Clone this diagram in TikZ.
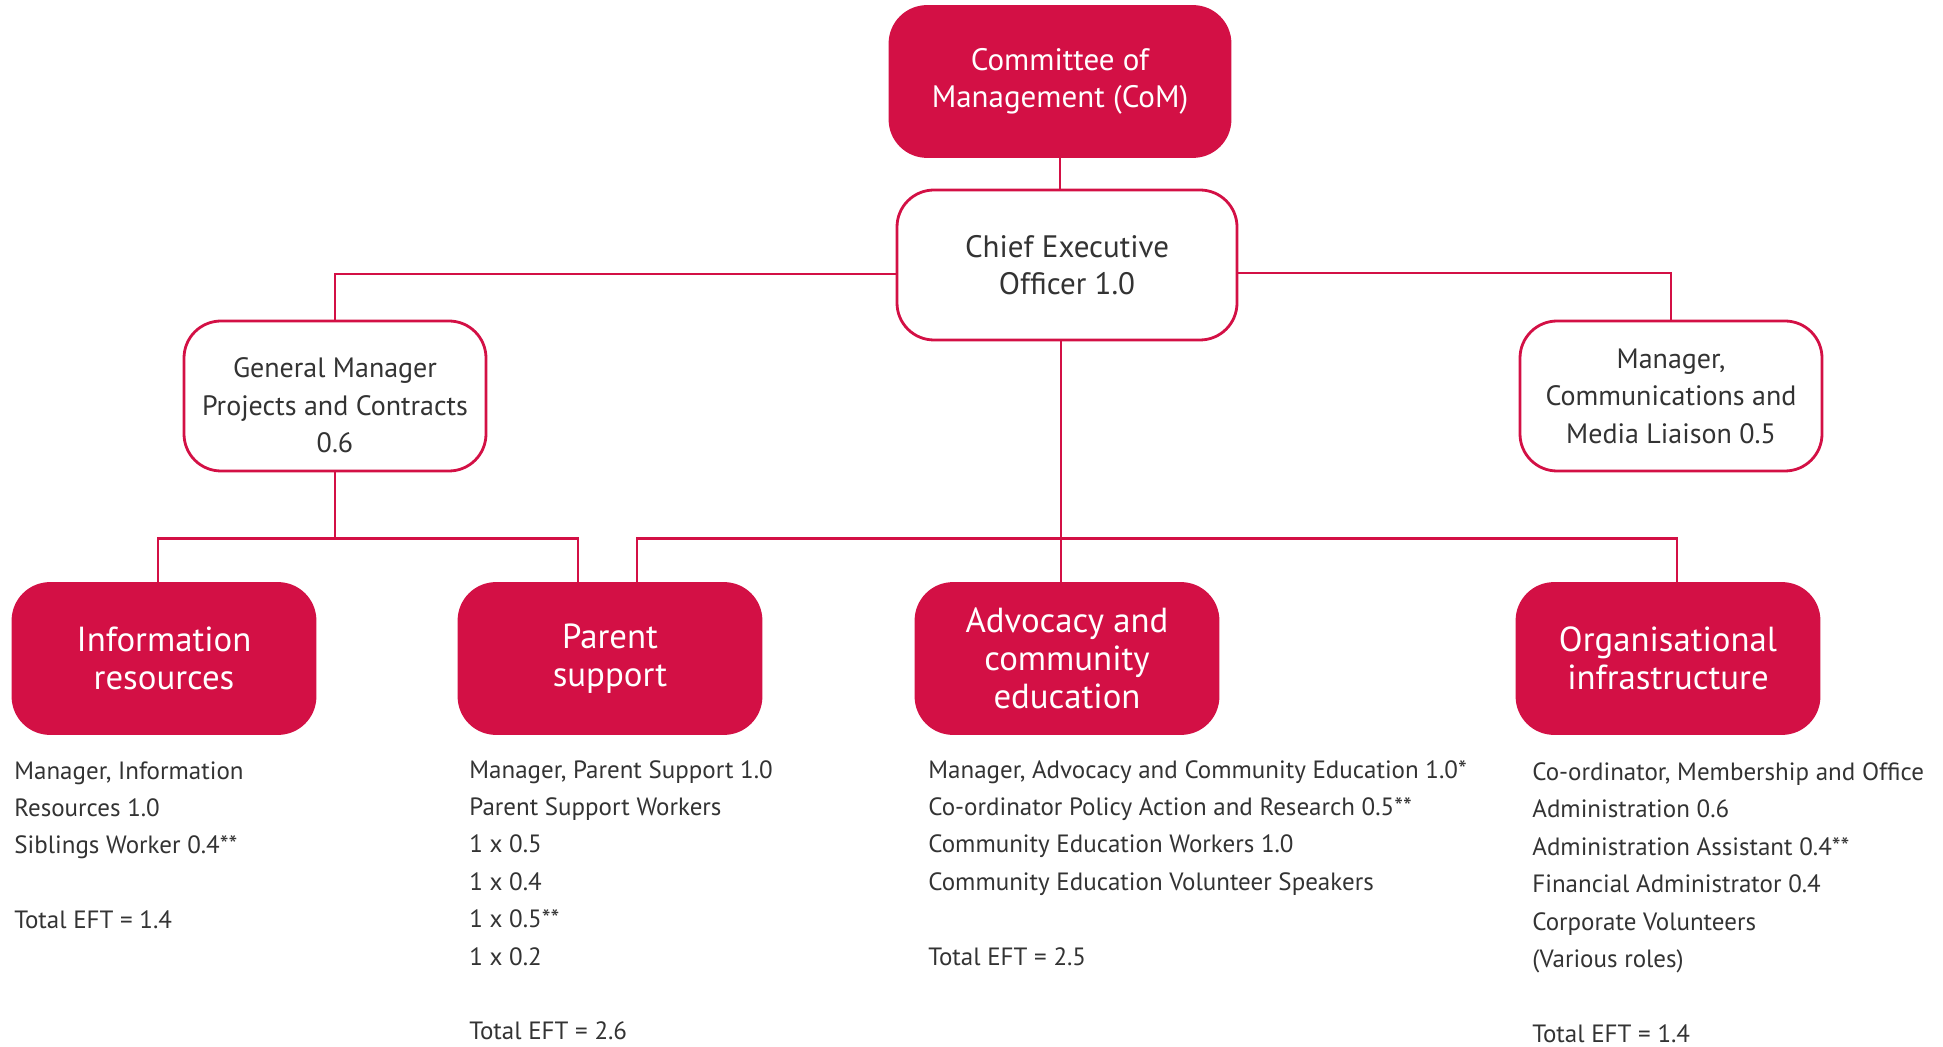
\documentclass[tikz,border=0pt]{standalone}
\usepackage{fontspec}
\setmainfont{PT Sans}
\usetikzlibrary{positioning,calc}
\definecolor{crim}{RGB}{211,16,69}
\definecolor{txt}{RGB}{51,51,51}
\tikzstyle{box}=[draw=crim, line width=1.4pt, rounded corners=18.5pt,
		minimum width=151pt, minimum height=75pt, align=center, inner sep=0]
\tikzstyle{topbox}=[box, minimum width=170pt, font=\fontsize{15.5}{18.7}\selectfont]
\tikzstyle{redbox}=[fill=crim, text=white]
\tikzstyle{whitebox}=[fill=white, text=txt]
\tikzstyle{midbox}=[box, whitebox, font=\fontsize{14}{18.7}\selectfont]
\tikzstyle{unitbox}=[box, redbox, font=\fontsize{17.4}{19}\selectfont]
\tikzstyle{link}=[draw=crim, line width=1.4pt]
\tikzstyle{roles}=[anchor=base west, align=left, text=txt, inner sep=0,
		font=\fontsize{12.5}{18.7}\selectfont]

\begin{document}
\begin{tikzpicture}[x=0.5pt, y=-0.5pt]
	\useasboundingbox (0,0) rectangle (1943,1047);
	% top of the chart
	\node[topbox, redbox] (com) at (1060,81.5) {Committee of\\Management (CoM)};
	\node[topbox, whitebox] (ceo) at (1067,265) {Chief Executive\\Officer 1.0};
	\node[midbox] (gm) at (335,396) {\rule{0pt}{19.5pt}General Manager\\Projects and Contracts\\0.6};
	\node[midbox] (mcl) at (1671,396) {Manager,\\Communications and\\Media Liaison 0.5};
	% units
	\node[unitbox] (ir) at (164,658.5) {Information\\resources};
	\node[unitbox] (ps) at (610,658.5) {Parent\\support};
	\node[unitbox] (ace) at (1067,658.5) {Advocacy and\\community\\education};
	\node[unitbox] (oi) at (1668,658.5) {Organisational\\infrastructure};
	% connectors
	\coordinate (gmj) at ($(gm.south)+(0,66.5)$);
	\coordinate (cj) at ($(ceo.south |- gmj)+(-6,0)$);
	\draw[link] (com.south) -- (com.south |- ceo.north);
	\draw[link] ($(ceo.west)+(0,9)$) -| (gm.north);
	\draw[link] ($(ceo.east)+(0,8)$) -| (mcl.north);
	\draw[link] (gm.south) -- (gmj);
	\draw[link] ($(ir.north)+(-6,0)$) |- (gmj) -| ($(ps.north)+(-32,0)$);
	\draw[link] ($(ceo.south)+(-6,0)$) -- ($(ace.north)+(-6,0)$);
	\draw[link] ($(ps.north)+(27,0)$) |- (cj) -| ($(oi.north)+(9,0)$);
	% staff lists (base = last line)
	\node[roles] (irl) at (14,928.6) {Manager, Information\\Resources 1.0\\Siblings Worker 0.4**\\[18.7pt]Total EFT = 1.4};
	\node[roles] (psl) at (469,1039.8) {Manager, Parent Support 1.0\\Parent Support Workers\\1 x 0.5\\1 x 0.4\\1 x 0.5**\\1 x 0.2\\[18.7pt]Total EFT = 2.6};
	\node[roles] (acel) at (928,965) {Manager, Advocacy and Community Education 1.0*\\Co-ordinator Policy Action and Research 0.5**\\Community Education Workers 1.0\\Community Education Volunteer Speakers\\[18.7pt]Total EFT = 2.5};
	\node[roles] (oil) at (1532,1042.3) {Co-ordinator, Membership and Office\\Administration 0.6\\Administration Assistant 0.4**\\Financial Administrator 0.4\\Corporate Volunteers\\(Various roles)\\[18.7pt]Total EFT = 1.4};
\end{tikzpicture}
\end{document}
